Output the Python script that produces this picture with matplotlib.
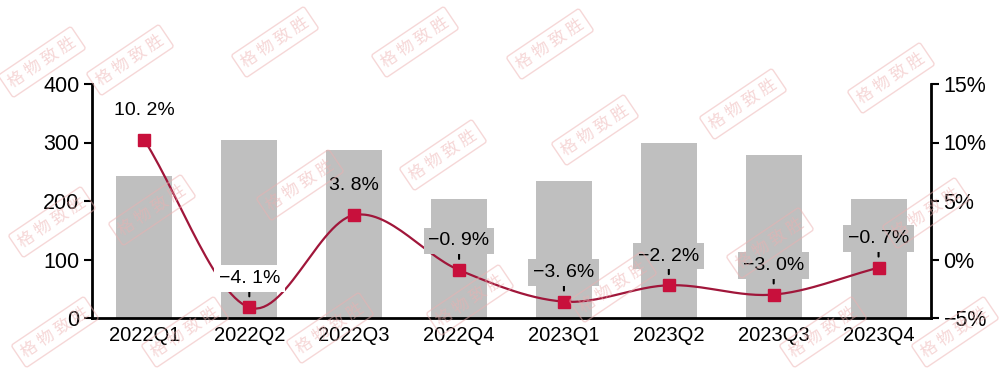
import matplotlib
matplotlib.use("Agg")
import matplotlib.pyplot as plt
import numpy as np

plt.rcParams['font.family'] = ['Liberation Sans', 'Noto Sans CJK SC', 'DejaVu Sans']

# data
quarters = ["2022Q1", "2022Q2", "2022Q3", "2022Q4", "2023Q1", "2023Q2", "2023Q3", "2023Q4"]
volume = [243, 305, 287, 204, 235, 299, 278, 203]
growth = [10.2, -4.1, 3.8, -0.9, -3.6, -2.2, -3.0, -0.7]
# background colour of each growth label box (None = no box)
label_bg = [None, "white", None, "#BFBFBF", "#BFBFBF", "#BFBFBF", "#BFBFBF", "#BFBFBF"]

bar_color = "#BFBFBF"
line_color = "#A0163A"
marker_color = "#C8103C"


def smooth(xs, ys, n=30):
    # catmull-rom spline through the points, just for a smooth looking line
    xs = np.asarray(xs, float)
    ys = np.asarray(ys, float)
    px = np.concatenate([[2 * xs[0] - xs[1]], xs, [2 * xs[-1] - xs[-2]]])
    py = np.concatenate([[2 * ys[0] - ys[1]], ys, [2 * ys[-1] - ys[-2]]])
    outx, outy = [], []
    for i in range(1, len(px) - 2):
        t = np.linspace(0, 1, n)
        for p, out in ((px, outx), (py, outy)):
            p0, p1, p2, p3 = p[i - 1], p[i], p[i + 1], p[i + 2]
            out.extend(0.5 * (2 * p1 + (-p0 + p2) * t
                              + (2 * p0 - 5 * p1 + 4 * p2 - p3) * t ** 2
                              + (-p0 + 3 * p1 - 3 * p2 + p3) * t ** 3))
    return np.array(outx), np.array(outy)


W, H = 1006, 375
fig = plt.figure(figsize=(W / 100, H / 100), dpi=100)

ax = fig.add_axes([92 / W, 1 - 318 / H, (931 - 92) / W, (318 - 84) / H])
ax.patch.set_alpha(0)
x = np.arange(len(quarters))
ax.bar(x, volume, width=0.535, color=bar_color, zorder=1)
ax.set_xlim(-0.5, len(quarters) - 0.5)
ax.set_ylim(0, 400)
ax.set_yticks([0, 100, 200, 300, 400])
ax.set_xticks(x)
ax.set_xticklabels(quarters)
ax.tick_params(axis='x', length=0, pad=6, labelsize=14.5)
ax.tick_params(axis='y', direction='out', length=6, width=1.5, labelsize=15.5, pad=3)
for s in ["top", "right"]:
    ax.spines[s].set_visible(False)
for s in ["left", "bottom"]:
    ax.spines[s].set_linewidth(2)

ax2 = ax.twinx()
ax2.set_ylim(-5, 15)
ax2.set_yticks([-5, 0, 5, 10, 15])
ax2.set_yticklabels(["\u22125%", "0%", "5%", "10%", "15%"])
ax2.tick_params(axis='y', direction='out', length=6, width=1.5, labelsize=15.5, pad=3)
for s in ["top", "left", "bottom"]:
    ax2.spines[s].set_visible(False)
ax2.spines["right"].set_linewidth(2)

sx, sy = smooth(x, growth)
ax2.plot(sx, sy, color=line_color, lw=1.6, zorder=3)
ax2.plot(x, growth, ls="none", marker="s", ms=9, color=marker_color, zorder=4)

for xi, g, bg in zip(x, growth, label_bg):
    txt = ("%.1f" % g).replace("-", "\u2212").replace(".", ". ") + "%"
    if bg is None:
        ax2.annotate(txt, (xi, g), xytext=(0, 21), textcoords="offset points",
                     ha="center", va="center", fontsize=14, zorder=5)
    else:
        ax2.annotate(txt, (xi, g), xytext=(0, 21), textcoords="offset points",
                     ha="center", va="center", fontsize=14, zorder=5,
                     bbox=dict(boxstyle="square,pad=0.25", fc=bg, ec="none"),
                     arrowprops=dict(arrowstyle="-", color="black", lw=1.5,
                                     shrinkA=0, shrinkB=8))

# faint watermark stamps (pixel positions from the top-left corner)
wm_pos = [(42, 62), (130, 60), (275, 42), (415, 42), (550, 44),
          (52, 222), (152, 210), (300, 185), (443, 155), (595, 130),
          (743, 104), (891, 78),
          (55, 332), (185, 332), (330, 328), (470, 300), (613, 287),
          (770, 243), (926, 213), (823, 332), (955, 332)]
for wx, wy in wm_pos:
    fig.text(wx / W, 1 - wy / H, "格 物 致 胜", fontsize=12, color="#EDB0B0",
             alpha=0.5, rotation=34, rotation_mode="anchor",
             ha="center", va="center", family=['Noto Sans CJK SC'], zorder=10,
             bbox=dict(boxstyle="round,pad=0.3,rounding_size=0.15", fc="none",
                       ec="#EDB0B0", lw=1.0, alpha=0.5))

fig.savefig("out.png", dpi=100)
